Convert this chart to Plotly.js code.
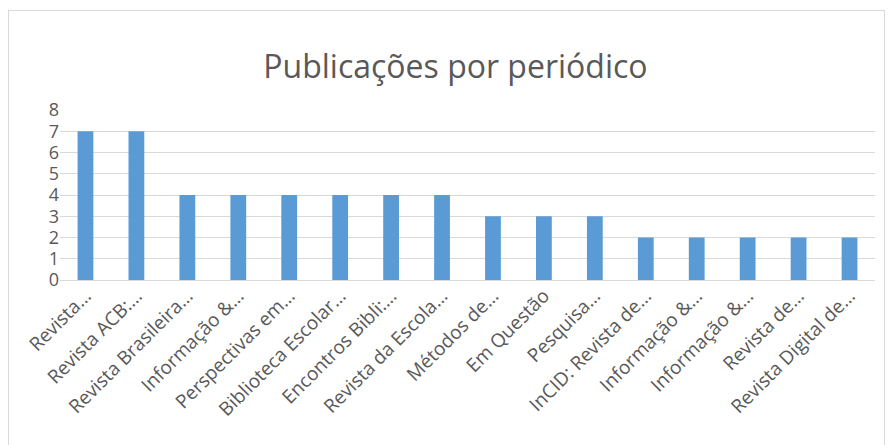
<!DOCTYPE html>
<html>
<head>
<meta charset="utf-8">
<script src="https://cdn.plot.ly/plotly-3.0.1.min.js"></script>
<style>
html,body{margin:0;padding:0;background:#fff;}
#chart{width:893px;height:445px;}
#frame{position:absolute;left:8px;top:10px;width:875px;height:440px;border:1px solid #D9D9D9;pointer-events:none;}
</style>
</head>
<body>
<div id="chart"></div>
<div id="frame"></div>
<script>
var categories = [
  "Revista…", "Revista ACB:…", "Revista Brasileira…", "Informação &…",
  "Perspectivas em…", "Biblioteca Escolar…", "Encontros Bibli:…", "Revista da Escola…",
  "Métodos de…", "Em Questão", "Pesquisa…", "InCID: Revista de…",
  "Informação &…", "Informação &…", "Revista de…", "Revista Digital de…"
];
var values = [7, 7, 4, 4, 4, 4, 4, 4, 3, 3, 3, 2, 2, 2, 2, 2];
var yTicks = [0, 1, 2, 3, 4, 5, 6, 7, 8];

var idx = categories.map(function(_, i){ return i; });

var trace = {
  type: 'bar',
  x: idx,
  y: values,
  marker: {color: '#5B9BD5'},
  hoverinfo: 'none'
};

var layout = {
  width: 893, height: 445,
  margin: {l: 60, r: 18, t: 110, b: 165},
  paper_bgcolor: '#fff', plot_bgcolor: '#fff',
  font: {family: 'Open Sans, sans-serif', color: '#595959'},
  title: {text: 'Publicações por periódico', font: {size: 32, color: '#595959'}, x: 0.51, xanchor: 'center', y: 0.825, yanchor: 'bottom'},
  bargap: 0.69,
  showlegend: false,
  xaxis: {
    tickmode: 'array', tickvals: idx, ticktext: categories,
    range: [-0.5, categories.length - 0.5],
    tickangle: -45, tickfont: {size: 19, color: '#595959'},
    showgrid: false, zeroline: false, showline: false, ticks: '',
    automargin: false
  },
  yaxis: {
    range: [0, 8], tickmode: 'array', tickvals: yTicks,
    tickfont: {size: 18, color: '#595959'},
    showgrid: true, gridcolor: '#D9D9D9', gridwidth: 1,
    zeroline: true, zerolinecolor: '#D9D9D9', zerolinewidth: 1,
    showline: false, ticks: '', ticklen: 0, automargin: false
  }
};

Plotly.newPlot('chart', [trace], layout, {displayModeBar: false, staticPlot: true});
</script>
</body>
</html>
